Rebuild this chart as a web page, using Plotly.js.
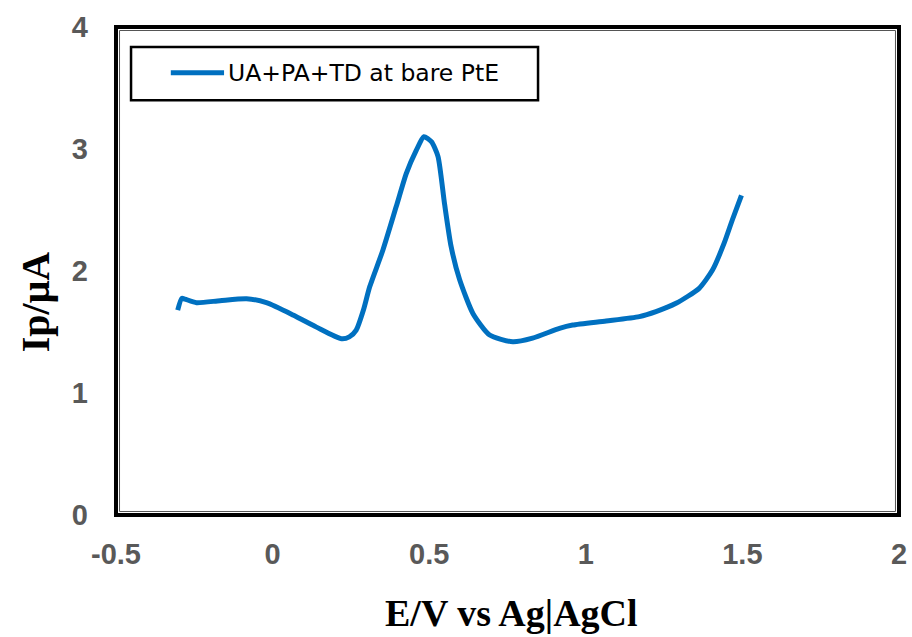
<!DOCTYPE html>
<html>
<head>
<meta charset="utf-8">
<script src="https://cdn.plot.ly/plotly-3.0.1.min.js"></script>
<style>html,body{margin:0;padding:0;background:#fff;}#chart{width:912px;height:637px;}</style>
</head>
<body>
<div id="chart"></div>
<script>
// E / V vs Ag|AgCl
const potential = [-0.303, -0.29, -0.28, -0.243, -0.168, -0.083, -0.02, 0.065, 0.14, 0.22, 0.245, 0.267, 0.29, 0.31, 0.352, 0.395, 0.427, 0.459, 0.483, 0.507, 0.528, 0.549, 0.57, 0.597, 0.64, 0.693, 0.767, 0.83, 0.916, 0.958, 1.065, 1.171, 1.224, 1.288, 1.362, 1.405, 1.442, 1.468, 1.497];
// Ip / µA
const current = [1.68, 1.776, 1.77, 1.74, 1.757, 1.773, 1.74, 1.64, 1.54, 1.445, 1.46, 1.516, 1.68, 1.87, 2.17, 2.53, 2.8, 2.99, 3.10, 3.06, 2.94, 2.55, 2.2, 1.93, 1.65, 1.475, 1.42, 1.45, 1.53, 1.557, 1.59, 1.626, 1.667, 1.735, 1.858, 2.01, 2.23, 2.42, 2.62];
const seriesName = 'UA+PA+TD at bare PtE';
const xTicks = [-0.5, 0, 0.5, 1, 1.5, 2];
const yTicks = [0, 1, 2, 3, 4];
const xTitle = 'E/V vs Ag|AgCl';
const yTitle = 'Ip/μA';

const lineColor = '#0070C0';
const trace = {
  x: potential, y: current, name: seriesName, type: 'scatter', mode: 'lines',
  line: {color: lineColor, width: 5, shape: 'spline', smoothing: 0.6},
  showlegend: false
};

const tickFont = {family: 'Liberation Sans, Arial, sans-serif', size: 29, color: '#595959', weight: 'bold'};
const titleFont = {family: 'Liberation Serif, Times New Roman, serif', color: '#000', weight: 'bold'};
const layout = {
  width: 912, height: 637,
  margin: {l: 116, r: 13, t: 27, b: 122},
  paper_bgcolor: '#fff', plot_bgcolor: '#fff',
  showlegend: false,
  xaxis: {range: [-0.5, 2], tickvals: xTicks, ticktext: xTicks.map(String),
    showgrid: false, zeroline: false, showline: false,
    ticks: '', ticklabelstandoff: 19, tickfont: tickFont},
  yaxis: {range: [0, 4], tickvals: yTicks, ticktext: yTicks.map(String),
    showgrid: false, zeroline: false, showline: false,
    ticks: '', ticklabelstandoff: 27, tickfont: tickFont},
  annotations: [
    {text: xTitle, xref: 'paper', yref: 'paper', x: 0.5045, y: -0.2, xanchor: 'center', yanchor: 'middle',
      showarrow: false, font: Object.assign({size: 38}, titleFont)},
    {text: yTitle, xref: 'paper', yref: 'paper', x: -0.1034, y: 0.436, xanchor: 'center', yanchor: 'middle',
      textangle: -90, showarrow: false, font: Object.assign({size: 40}, titleFont)},
    {text: seriesName, xref: 'paper', yref: 'paper', x: 0.1405, y: 0.906, xanchor: 'left', yanchor: 'middle',
      showarrow: false, font: {family: 'DejaVu Sans, Verdana, sans-serif', size: 23.5, color: '#000'}}
  ],
  shapes: [
    {type: 'rect', xref: 'paper', yref: 'paper', x0: 0, x1: 1, y0: 0, y1: 1,
      line: {color: '#000', width: 4}},
    {type: 'rect', xref: 'paper', yref: 'paper', x0: 0.0045, x1: 0.9955, y0: 0.0072, y1: 0.9928,
      line: {color: '#555', width: 1}, layer: 'below'},
    // legend box and key
    {type: 'rect', xref: 'paper', yref: 'paper', x0: 0.0192, x1: 0.539, y0: 0.850, y1: 0.959,
      line: {color: '#000', width: 2.5}, fillcolor: '#fff', layer: 'below'},
    {type: 'line', xref: 'paper', yref: 'paper', x0: 0.0700, x1: 0.1380, y0: 0.906, y1: 0.906,
      line: {color: lineColor, width: 5}}
  ]
};
Plotly.newPlot('chart', [trace], layout, {displayModeBar: false, staticPlot: true});
</script>
</body>
</html>
